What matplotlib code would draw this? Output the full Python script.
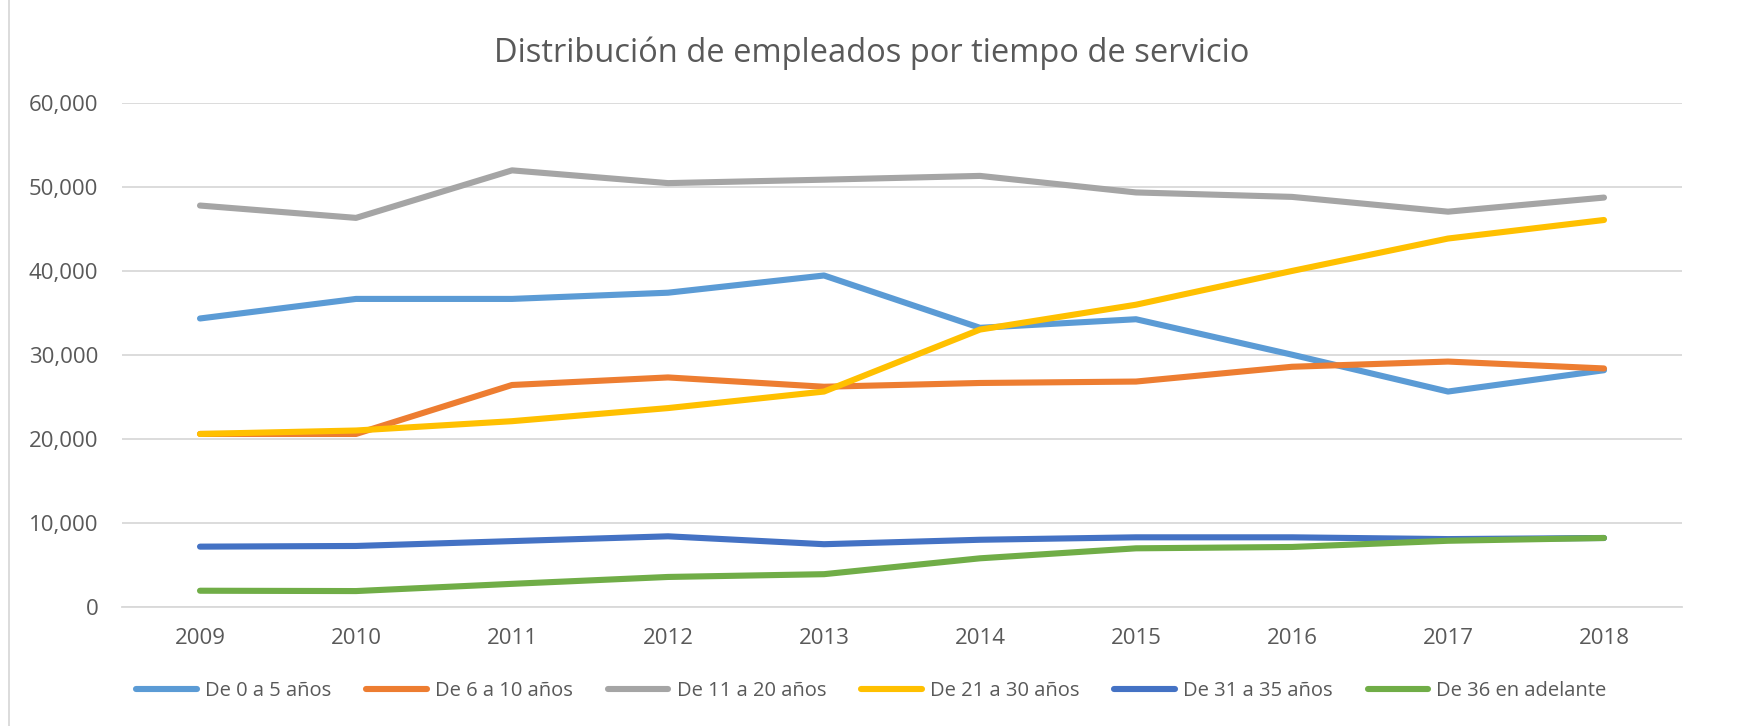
import numpy as np
import matplotlib.pyplot as plt
from matplotlib.ticker import FuncFormatter

plt.rcParams['font.family'] = ['Open Sans', 'DejaVu Sans']

years = ['2009', '2010', '2011', '2012', '2013', '2014', '2015', '2016', '2017', '2018']

de_0_5 = [34350, 36680, 36680, 37420, 39470, 33240, 34260, 30040, 25650, 28190]
de_6_10 = [20600, 20600, 26430, 27330, 26220, 26670, 26840, 28600, 29220, 28400]
de_11_20 = [47800, 46330, 51990, 50470, 50880, 51330, 49360, 48830, 47070, 48750]
de_21_30 = [20600, 21010, 22120, 23680, 25650, 33030, 35990, 40010, 43870, 46080]
de_31_35 = [7180, 7260, 7840, 8410, 7470, 8000, 8290, 8290, 8080, 8210]
de_36 = [1930, 1890, 2750, 3570, 3900, 5790, 6980, 7140, 7880, 8210]

series = [
    ("De 0 a 5 años", de_0_5, "#5B9BD5"),
    ("De 6 a 10 años", de_6_10, "#ED7D31"),
    ("De 11 a 20 años", de_11_20, "#A5A5A5"),
    ("De 21 a 30 años", de_21_30, "#FFC000"),
    ("De 31 a 35 años", de_31_35, "#4472C4"),
    ("De 36 en adelante", de_36, "#70AD47"),
]

fig = plt.figure(figsize=(17.43, 7.26), dpi=100)
ax = fig.add_axes([0.070, 0.164, 0.895, 0.694])

x = np.arange(len(years))
for name, vals, col in series:
    ax.plot(x, vals, color=col, linewidth=4.4, label=name, solid_capstyle='round')

ax.set_xlim(-0.5, len(years) - 0.5)
ax.set_ylim(0, 60000)
ax.set_yticks(range(0, 60001, 10000))
ax.yaxis.set_major_formatter(FuncFormatter(lambda v, p: f"{int(v):,}"))
ax.set_xticks(x)
ax.set_xticklabels(years)
ax.grid(axis='y', color='#D9D9D9', linewidth=1.3)
ax.set_axisbelow(True)
for s in ['top', 'right', 'left']:
    ax.spines[s].set_visible(False)
ax.spines['bottom'].set_color('#D9D9D9')
ax.spines['bottom'].set_linewidth(1.3)
ax.tick_params(length=0, labelsize=16, colors='#595959', pad=15)
ax.tick_params(axis='y', pad=17)

fig.suptitle("Distribución de empleados por tiempo de servicio", fontsize=23.5,
             color='#595959', y=0.95)

fig.legend(loc='center', bbox_to_anchor=(0.5, 0.048), ncol=6, frameon=False,
           fontsize=14.5, handlelength=3.0, columnspacing=1.75, handletextpad=0.4,
           labelcolor='#595959')

# chart border
fig.add_artist(plt.Line2D([0.005, 0.005], [0, 1], color='#D9D9D9', linewidth=1.3,
                          transform=fig.transFigure))

fig.savefig("out.png", dpi=100, facecolor='white')
